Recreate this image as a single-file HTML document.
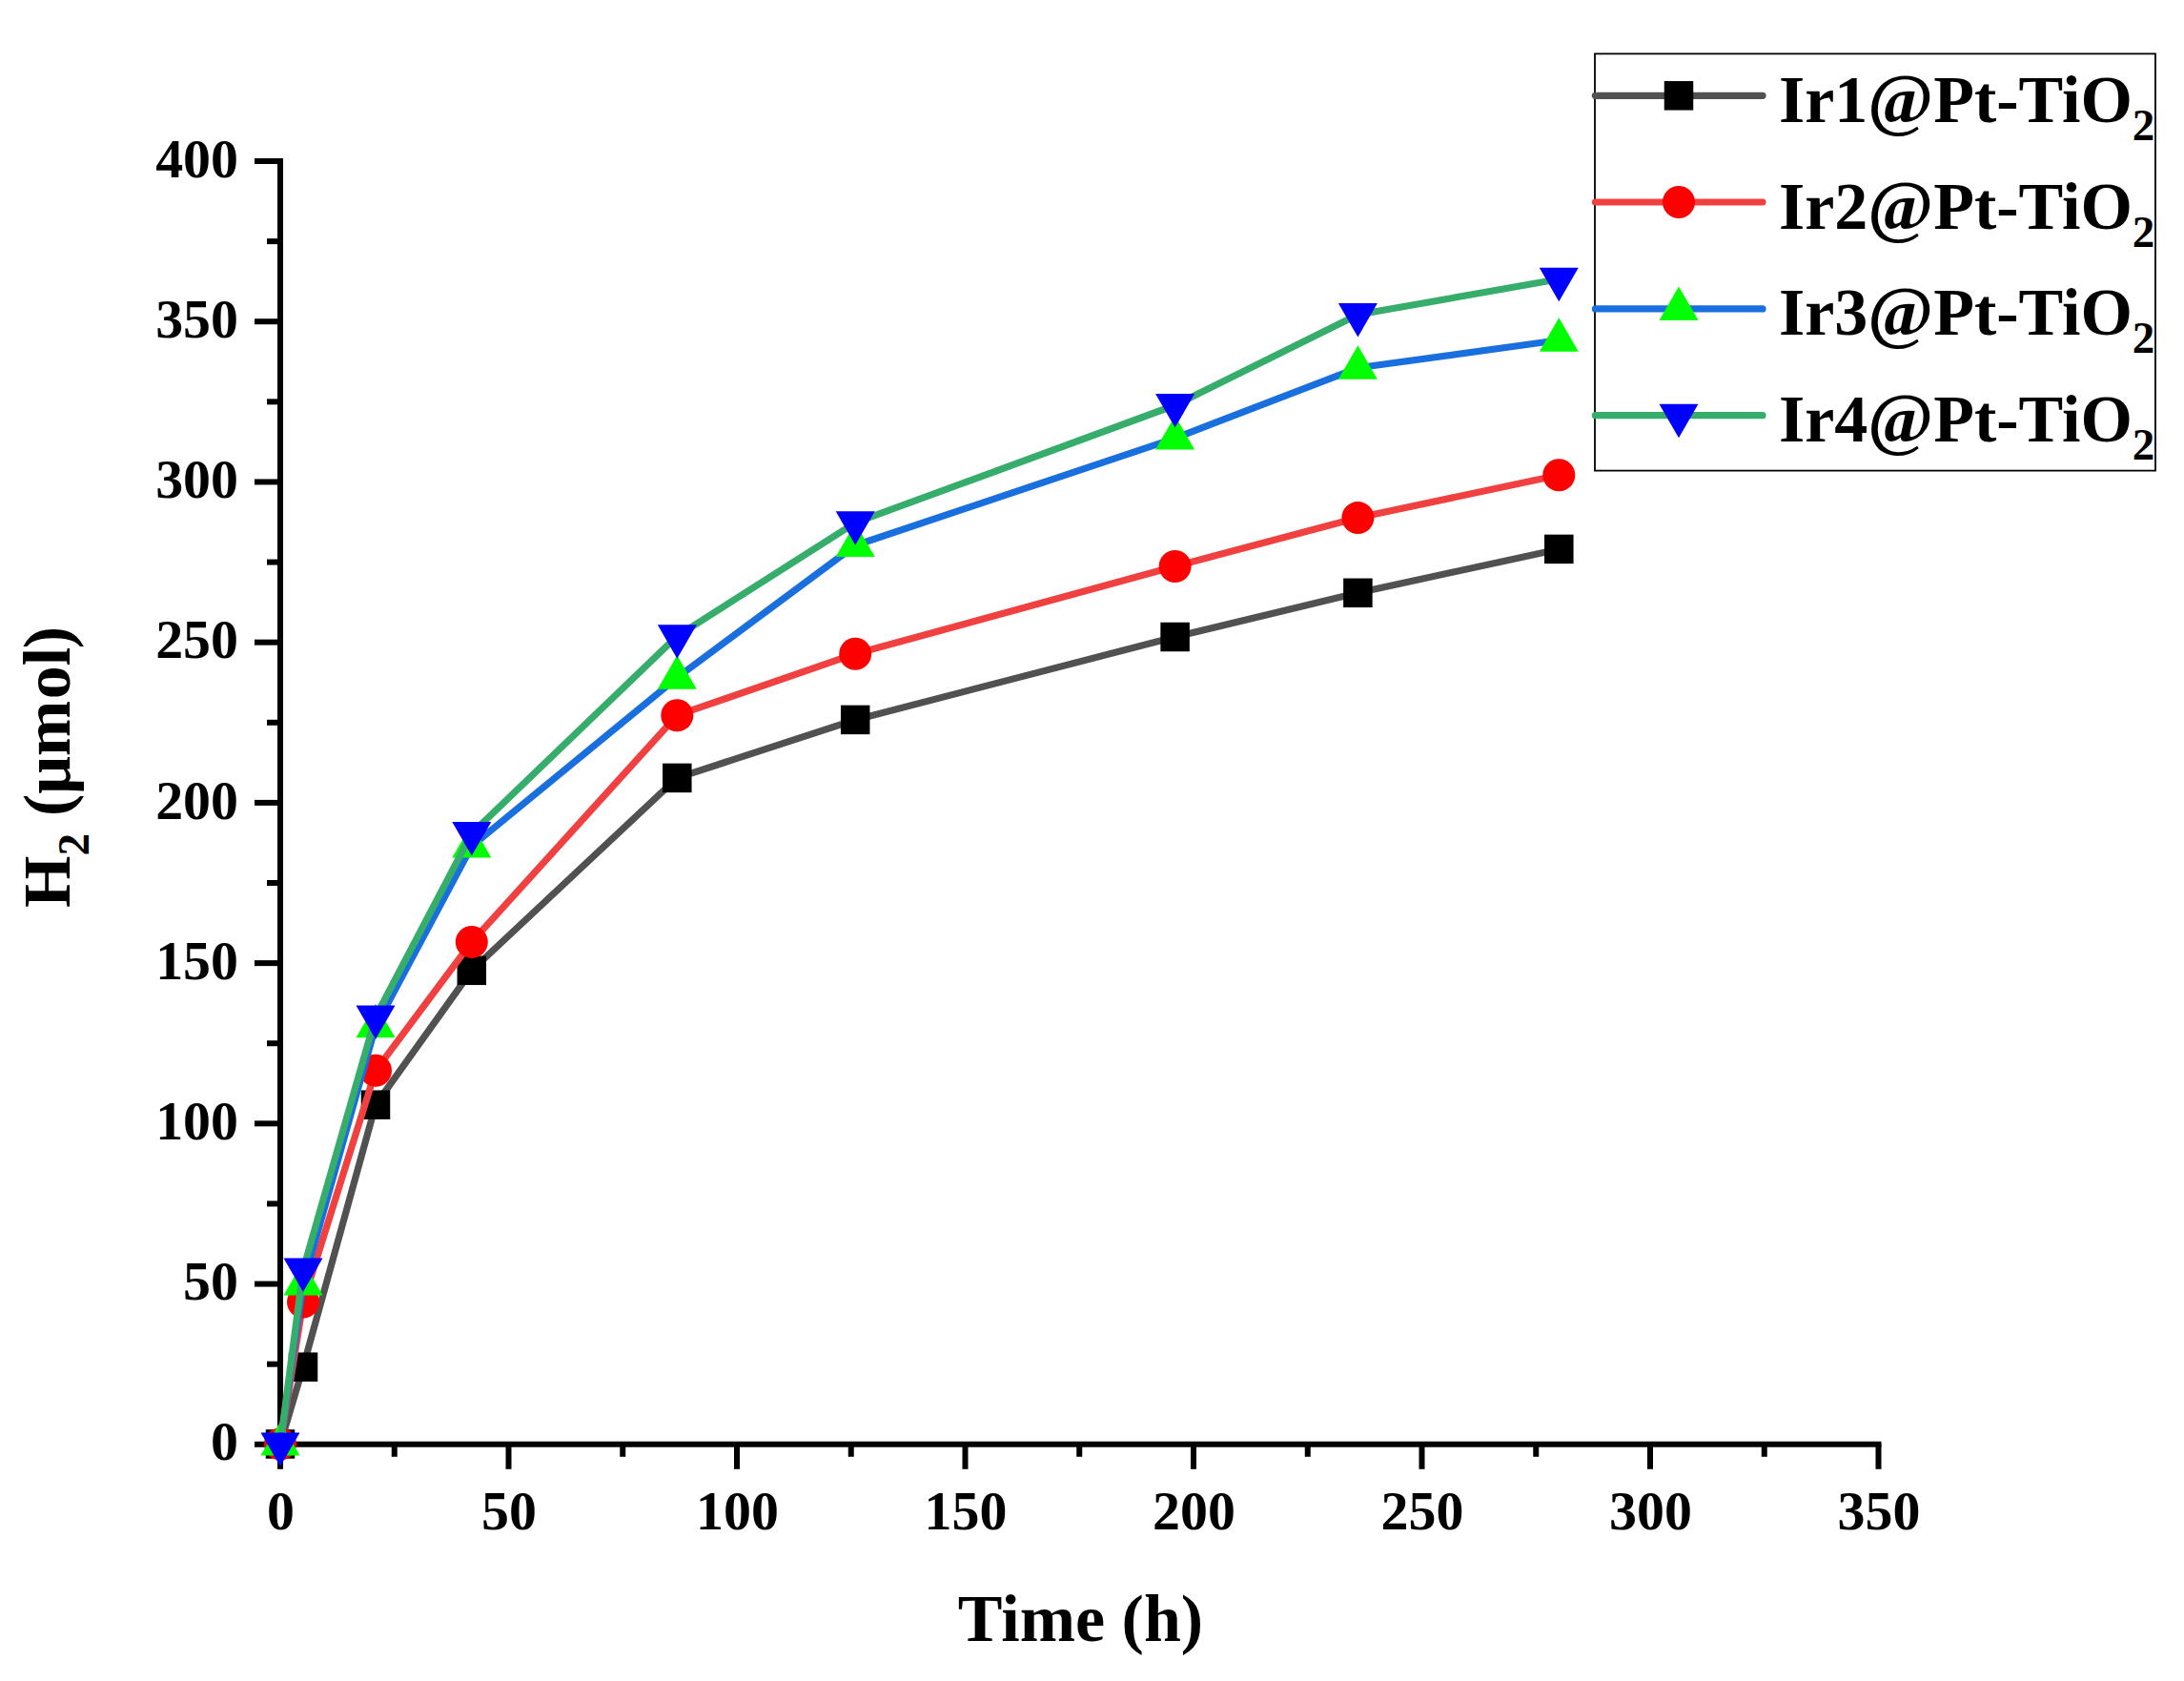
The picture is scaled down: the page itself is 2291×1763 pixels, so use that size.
<!DOCTYPE html>
<html><head><meta charset="utf-8"><title>H2 evolution</title>
<style>
html,body{margin:0;padding:0;background:#fff;}
svg{display:block;}
text{font-family:"Liberation Serif",serif;font-weight:bold;fill:#000;}
.tk{font-size:57.9px;}
.ttl{font-size:70px;}
.lg{font-size:70px;}
.sub{font-size:47px;}
.at{font-size:74px;}
</style></head><body>
<svg width="2291" height="1763" viewBox="0 0 2291 1763">
<rect width="2291" height="1763" fill="#fff"/>

<g stroke="#000" stroke-width="6" fill="none" stroke-linecap="butt">
<line x1="294.0" y1="166.00" x2="294.0" y2="1517.80"/>
<line x1="291.0" y1="1514.8" x2="1973.50" y2="1514.8"/>
<line x1="294.00" y1="1514.8" x2="294.00" y2="1540.8"/>
<line x1="413.75" y1="1514.8" x2="413.75" y2="1527.8"/>
<line x1="533.50" y1="1514.8" x2="533.50" y2="1540.8"/>
<line x1="653.25" y1="1514.8" x2="653.25" y2="1527.8"/>
<line x1="773.00" y1="1514.8" x2="773.00" y2="1540.8"/>
<line x1="892.75" y1="1514.8" x2="892.75" y2="1527.8"/>
<line x1="1012.50" y1="1514.8" x2="1012.50" y2="1540.8"/>
<line x1="1132.25" y1="1514.8" x2="1132.25" y2="1527.8"/>
<line x1="1252.00" y1="1514.8" x2="1252.00" y2="1540.8"/>
<line x1="1371.75" y1="1514.8" x2="1371.75" y2="1527.8"/>
<line x1="1491.50" y1="1514.8" x2="1491.50" y2="1540.8"/>
<line x1="1611.25" y1="1514.8" x2="1611.25" y2="1527.8"/>
<line x1="1731.00" y1="1514.8" x2="1731.00" y2="1540.8"/>
<line x1="1850.75" y1="1514.8" x2="1850.75" y2="1527.8"/>
<line x1="1970.50" y1="1514.8" x2="1970.50" y2="1540.8"/>
<line x1="294.0" y1="1514.80" x2="267.0" y2="1514.80"/>
<line x1="294.0" y1="1430.69" x2="280.0" y2="1430.69"/>
<line x1="294.0" y1="1346.58" x2="267.0" y2="1346.58"/>
<line x1="294.0" y1="1262.46" x2="280.0" y2="1262.46"/>
<line x1="294.0" y1="1178.35" x2="267.0" y2="1178.35"/>
<line x1="294.0" y1="1094.24" x2="280.0" y2="1094.24"/>
<line x1="294.0" y1="1010.12" x2="267.0" y2="1010.12"/>
<line x1="294.0" y1="926.01" x2="280.0" y2="926.01"/>
<line x1="294.0" y1="841.90" x2="267.0" y2="841.90"/>
<line x1="294.0" y1="757.79" x2="280.0" y2="757.79"/>
<line x1="294.0" y1="673.67" x2="267.0" y2="673.67"/>
<line x1="294.0" y1="589.56" x2="280.0" y2="589.56"/>
<line x1="294.0" y1="505.45" x2="267.0" y2="505.45"/>
<line x1="294.0" y1="421.34" x2="280.0" y2="421.34"/>
<line x1="294.0" y1="337.22" x2="267.0" y2="337.22"/>
<line x1="294.0" y1="253.11" x2="280.0" y2="253.11"/>
<line x1="294.0" y1="169.00" x2="267.0" y2="169.00"/>
</g>
<text class="tk" x="294.50" y="1603.8" text-anchor="middle">0</text>
<text class="tk" x="534.00" y="1603.8" text-anchor="middle">50</text>
<text class="tk" x="773.50" y="1603.8" text-anchor="middle">100</text>
<text class="tk" x="1013.00" y="1603.8" text-anchor="middle">150</text>
<text class="tk" x="1252.50" y="1603.8" text-anchor="middle">200</text>
<text class="tk" x="1492.00" y="1603.8" text-anchor="middle">250</text>
<text class="tk" x="1731.50" y="1603.8" text-anchor="middle">300</text>
<text class="tk" x="1971.00" y="1603.8" text-anchor="middle">350</text>
<text class="tk" x="250" y="1530.90" text-anchor="end">0</text>
<text class="tk" x="250" y="1362.80" text-anchor="end">50</text>
<text class="tk" x="250" y="1194.70" text-anchor="end">100</text>
<text class="tk" x="250" y="1026.60" text-anchor="end">150</text>
<text class="tk" x="250" y="858.50" text-anchor="end">200</text>
<text class="tk" x="250" y="690.40" text-anchor="end">250</text>
<text class="tk" x="250" y="522.30" text-anchor="end">300</text>
<text class="tk" x="250" y="354.20" text-anchor="end">350</text>
<text class="tk" x="250" y="186.10" text-anchor="end">400</text>
<text class="ttl" x="1133.5" y="1721" text-anchor="middle">Time (h)</text>
<text class="ttl" transform="translate(73,952) rotate(-90)" x="0" y="0">H<tspan class="sub" dy="19.5">2</tspan><tspan dy="-19.5" dx="0.5"> (μm</tspan><tspan dx="1.5">ol</tspan><tspan dx="-1.5">)</tspan></text>
<polyline points="294.00,1514.50 318.00,1433.70 394.00,1158.70 494.80,1017.80 710.30,815.90 897.20,754.90 1232.60,668.00 1424.40,621.80 1635.30,575.90" fill="none" stroke="#515151" stroke-width="7.2" stroke-linejoin="round" stroke-linecap="round"/>
<rect x="278.75" y="1499.25" width="30.5" height="30.5" fill="#000000"/>
<rect x="302.75" y="1418.45" width="30.5" height="30.5" fill="#000000"/>
<rect x="378.75" y="1143.45" width="30.5" height="30.5" fill="#000000"/>
<rect x="479.55" y="1002.55" width="30.5" height="30.5" fill="#000000"/>
<rect x="695.05" y="800.65" width="30.5" height="30.5" fill="#000000"/>
<rect x="881.95" y="739.65" width="30.5" height="30.5" fill="#000000"/>
<rect x="1217.35" y="652.75" width="30.5" height="30.5" fill="#000000"/>
<rect x="1409.15" y="606.55" width="30.5" height="30.5" fill="#000000"/>
<rect x="1620.05" y="560.65" width="30.5" height="30.5" fill="#000000"/>
<polyline points="294.00,1514.50 318.00,1365.50 394.00,1122.80 494.80,987.90 710.30,750.20 897.20,685.70 1232.60,594.00 1424.40,543.10 1635.30,498.30" fill="none" stroke="#F14040" stroke-width="7.2" stroke-linejoin="round" stroke-linecap="round"/>
<circle cx="294.00" cy="1514.50" r="17" fill="#FF0000"/>
<circle cx="318.00" cy="1365.50" r="17" fill="#FF0000"/>
<circle cx="394.00" cy="1122.80" r="17" fill="#FF0000"/>
<circle cx="494.80" cy="987.90" r="17" fill="#FF0000"/>
<circle cx="710.30" cy="750.20" r="17" fill="#FF0000"/>
<circle cx="897.20" cy="685.70" r="17" fill="#FF0000"/>
<circle cx="1232.60" cy="594.00" r="17" fill="#FF0000"/>
<circle cx="1424.40" cy="543.10" r="17" fill="#FF0000"/>
<circle cx="1635.30" cy="498.30" r="17" fill="#FF0000"/>
<polyline points="294.00,1514.50 318.00,1346.50 394.00,1076.30 494.80,887.50 710.30,710.70 897.20,572.00 1232.60,459.60 1424.40,385.80 1635.30,356.70" fill="none" stroke="#1A6FDF" stroke-width="7.2" stroke-linejoin="round" stroke-linecap="round"/>
<polygon points="294.00,1491.00 273.50,1526.50 314.50,1526.50" fill="#00FF00"/>
<polygon points="318.00,1323.00 297.50,1358.50 338.50,1358.50" fill="#00FF00"/>
<polygon points="394.00,1052.80 373.50,1088.30 414.50,1088.30" fill="#00FF00"/>
<polygon points="494.80,864.00 474.30,899.50 515.30,899.50" fill="#00FF00"/>
<polygon points="710.30,687.20 689.80,722.70 730.80,722.70" fill="#00FF00"/>
<polygon points="897.20,548.50 876.70,584.00 917.70,584.00" fill="#00FF00"/>
<polygon points="1232.60,436.10 1212.10,471.60 1253.10,471.60" fill="#00FF00"/>
<polygon points="1424.40,362.30 1403.90,397.80 1444.90,397.80" fill="#00FF00"/>
<polygon points="1635.30,333.20 1614.80,368.70 1655.80,368.70" fill="#00FF00"/>
<polyline points="294.00,1514.50 318.00,1331.50 394.00,1066.40 494.80,874.10 710.30,667.20 897.20,548.20 1232.60,425.00 1424.40,330.00 1635.30,292.80" fill="none" stroke="#37AD6B" stroke-width="7.2" stroke-linejoin="round" stroke-linecap="round"/>
<polygon points="273.50,1502.50 314.50,1502.50 294.00,1538.00" fill="#0000FF"/>
<polygon points="297.50,1319.50 338.50,1319.50 318.00,1355.00" fill="#0000FF"/>
<polygon points="373.50,1054.40 414.50,1054.40 394.00,1089.90" fill="#0000FF"/>
<polygon points="474.30,862.10 515.30,862.10 494.80,897.60" fill="#0000FF"/>
<polygon points="689.80,655.20 730.80,655.20 710.30,690.70" fill="#0000FF"/>
<polygon points="876.70,536.20 917.70,536.20 897.20,571.70" fill="#0000FF"/>
<polygon points="1212.10,413.00 1253.10,413.00 1232.60,448.50" fill="#0000FF"/>
<polygon points="1403.90,318.00 1444.90,318.00 1424.40,353.50" fill="#0000FF"/>
<polygon points="1614.80,280.80 1655.80,280.80 1635.30,316.30" fill="#0000FF"/>
<rect x="1673" y="56.4" width="588" height="437.2" fill="#fff" stroke="#000" stroke-width="1.8"/>
<line x1="1673.4" y1="100.3" x2="1849" y2="100.3" stroke="#515151" stroke-width="7.2" stroke-linecap="round"/>
<rect x="1745.75" y="85.05" width="30.5" height="30.5" fill="#000000"/>
<text class="lg" x="1866" y="127.80">Ir1<tspan class="at" dy="1">@</tspan><tspan dy="-1">Pt-TiO</tspan><tspan class="sub" dy="19">2</tspan></text>
<line x1="1673.4" y1="212.0" x2="1849" y2="212.0" stroke="#F14040" stroke-width="7.2" stroke-linecap="round"/>
<circle cx="1761.00" cy="212.00" r="17" fill="#FF0000"/>
<text class="lg" x="1866" y="239.50">Ir2<tspan class="at" dy="1">@</tspan><tspan dy="-1">Pt-TiO</tspan><tspan class="sub" dy="19">2</tspan></text>
<line x1="1673.4" y1="323.9" x2="1849" y2="323.9" stroke="#1A6FDF" stroke-width="7.2" stroke-linecap="round"/>
<polygon points="1761.00,300.40 1740.50,335.90 1781.50,335.90" fill="#00FF00"/>
<text class="lg" x="1866" y="351.40">Ir3<tspan class="at" dy="1">@</tspan><tspan dy="-1">Pt-TiO</tspan><tspan class="sub" dy="19">2</tspan></text>
<line x1="1673.4" y1="435.7" x2="1849" y2="435.7" stroke="#37AD6B" stroke-width="7.2" stroke-linecap="round"/>
<polygon points="1740.50,423.70 1781.50,423.70 1761.00,459.20" fill="#0000FF"/>
<text class="lg" x="1866" y="463.20">Ir4<tspan class="at" dy="1">@</tspan><tspan dy="-1">Pt-TiO</tspan><tspan class="sub" dy="19">2</tspan></text>
</svg></body></html>
